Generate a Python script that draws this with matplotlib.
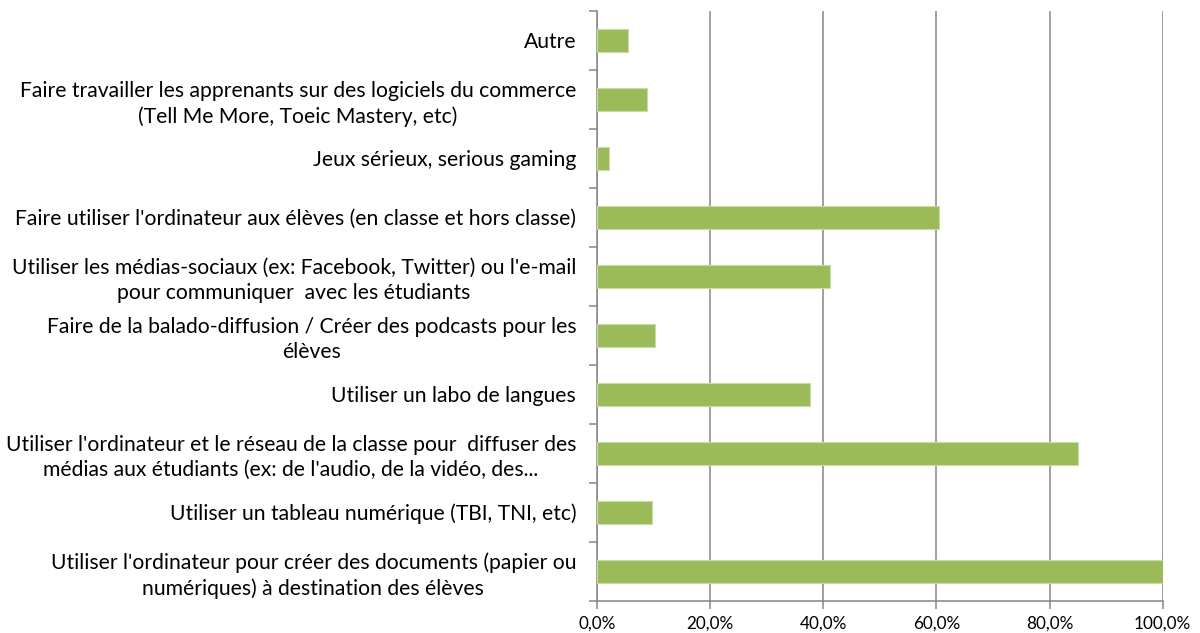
import numpy as np
import matplotlib.pyplot as plt
from matplotlib.ticker import FuncFormatter

# categories in display order (top to bottom)
categories = [
    "Autre",
    "Faire travailler les apprenants sur des logiciels du commerce\n(Tell Me More, Toeic Mastery, etc)",
    "Jeux sérieux, serious gaming",
    "Faire utiliser l'ordinateur aux élèves (en classe et hors classe)",
    "Utiliser les médias-sociaux (ex: Facebook, Twitter) ou l'e-mail\npour communiquer  avec les étudiants",
    "Faire de la balado-diffusion / Créer des podcasts pour les\nélèves",
    "Utiliser un labo de langues",
    "Utiliser l'ordinateur et le réseau de la classe pour  diffuser des\nmédias aux étudiants (ex: de l'audio, de la vidéo, des...",
    "Utiliser un tableau numérique (TBI, TNI, etc)",
    "Utiliser l'ordinateur pour créer des documents (papier ou\nnumériques) à destination des élèves",
]
values = [5.4, 8.9, 2.1, 60.4, 41.2, 10.2, 37.7, 85.1, 9.7, 100.0]
xticks = [0, 20, 40, 60, 80, 100]

plt.rcParams['font.family'] = ['Lato', 'DejaVu Sans']

fig = plt.figure(figsize=(12, 6.33), dpi=100)
ax = fig.add_axes([597 / 1200, 1 - 600.7 / 633, (1162.7 - 597) / 1200, (600.7 - 10.7) / 633])

pos = np.arange(len(categories))
ax.barh(pos, values, height=0.39, color="#9BBB59", edgecolor="#C8DCA4", linewidth=0.8, zorder=3)

ax.set_xlim(0, 100)
ax.set_ylim(len(categories) - 0.5, -0.5)

ax.set_xticks(xticks)
ax.xaxis.set_major_formatter(FuncFormatter(lambda v, p: f"{v:.1f}%".replace(".", ",")))
ax.grid(axis="x", color="#868686", linewidth=1.1, zorder=0)

# boundaries between categories get the ticks, labels sit in the middle
ax.set_yticks(np.arange(len(categories) + 1) - 0.5)
ax.set_yticklabels([])
ax.set_yticks(pos, minor=True)
ax.set_yticklabels(categories, minor=True, fontsize=15.2, linespacing=1.32,
                   ha="right", multialignment="center")
ax.tick_params(axis="y", which="minor", length=0, pad=15)
ax.tick_params(axis="y", which="major", length=6, color="#868686", width=1.1)
ax.tick_params(axis="x", length=6, color="#868686", width=1.1, labelsize=12.3, pad=5)

for s in ["top", "right"]:
    ax.spines[s].set_visible(False)
for s in ["left", "bottom"]:
    ax.spines[s].set_color("#868686")
    ax.spines[s].set_linewidth(1.1)

fig.savefig("out.png", dpi=100)
